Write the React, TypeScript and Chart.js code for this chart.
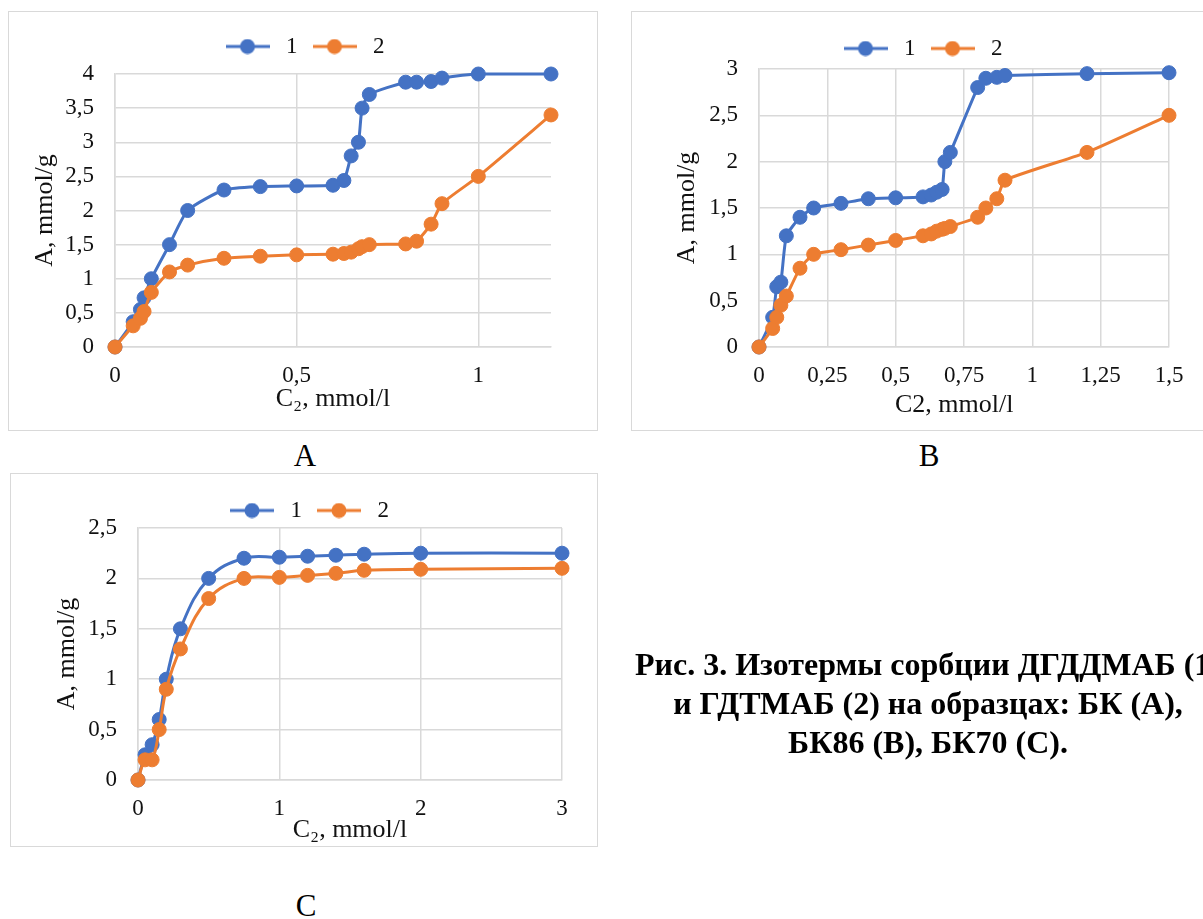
import React, { useEffect, useRef } from 'react';
import { Chart, registerables } from 'chart.js';

Chart.register(...registerables);

// ---------- data ----------
const seriesLabels = ['1', '2'];

// Panel A (БК)
const xA = [0, 0.05, 0.07, 0.08, 0.1, 0.15, 0.2, 0.3, 0.4, 0.5, 0.6, 0.63, 0.65, 0.67, 0.68, 0.7, 0.8, 0.83, 0.87, 0.9, 1.0, 1.2];
const s1A = [0, 0.37, 0.55, 0.72, 1.0, 1.5, 2.0, 2.3, 2.35, 2.36, 2.37, 2.44, 2.8, 3.0, 3.5, 3.7, 3.88, 3.88, 3.89, 3.94, 4.0, 4.0];
const s2A = [0, 0.31, 0.42, 0.52, 0.8, 1.1, 1.2, 1.3, 1.33, 1.35, 1.36, 1.37, 1.39, 1.44, 1.47, 1.5, 1.51, 1.55, 1.8, 2.1, 2.5, 3.4];

// Panel B (БК86)
const xB = [0, 0.05, 0.065, 0.08, 0.1, 0.15, 0.2, 0.3, 0.4, 0.5, 0.6, 0.63, 0.65, 0.67, 0.68, 0.7, 0.8, 0.83, 0.87, 0.9, 1.2, 1.5];
const s1B = [0, 0.32, 0.65, 0.7, 1.2, 1.4, 1.5, 1.55, 1.6, 1.61, 1.62, 1.64, 1.67, 1.7, 2.0, 2.1, 2.8, 2.9, 2.91, 2.93, 2.95, 2.96];
const s2B = [0, 0.2, 0.32, 0.45, 0.55, 0.85, 1.0, 1.05, 1.1, 1.15, 1.2, 1.22, 1.25, 1.27, 1.28, 1.3, 1.4, 1.5, 1.6, 1.8, 2.1, 2.5];

// Panel C (БК70)
const xC = [0, 0.05, 0.1, 0.15, 0.2, 0.3, 0.5, 0.75, 1.0, 1.2, 1.4, 1.6, 2.0, 3.0];
const s1C = [0, 0.25, 0.35, 0.6, 1.0, 1.5, 2.0, 2.2, 2.21, 2.22, 2.23, 2.24, 2.25, 2.25];
const s2C = [0, 0.2, 0.2, 0.5, 0.9, 1.3, 1.8, 2.0, 2.01, 2.03, 2.05, 2.08, 2.09, 2.1];

const yTitle = 'A, mmol/g';
const xTitleA = 'C\u2082, mmol/l';
const xTitleB = 'C2, mmol/l';
const xTitleC = 'C\u2082, mmol/l';

const captionLines = [
  'Рис. 3. Изотермы сорбции ДГДДМАБ (1)',
  'и ГДТМАБ (2) на образцах: БК (А),',
  'БК86 (В), БК70 (С).',
];

// ---------- styling ----------
const BLUE = '#4472C4';
const ORANGE = '#ED7D31';
const GRID = '#d9d9d9';
const TEXT = '#111111';
const SERIF = '"Liberation Serif", "Times New Roman", serif';

type Geo = {
  padTop: number; padLeft: number; padRight: number; padBottom: number;
  yWidth: number; xHeight: number; legendExtra: number; legendShift: number; xTitleShift: number;
};

function legendSymbol(color: string): HTMLCanvasElement {
  const c = document.createElement('canvas');
  c.width = 44; c.height = 16;
  const ctx = c.getContext('2d')!;
  ctx.strokeStyle = color; ctx.lineWidth = 3;
  ctx.beginPath(); ctx.moveTo(0, 8); ctx.lineTo(44, 8); ctx.stroke();
  ctx.fillStyle = color;
  ctx.beginPath(); ctx.arc(22, 8, 7.5, 0, Math.PI * 2); ctx.fill();
  return c;
}

const fmt = (v: any) => String(Math.round(Number(v) * 100) / 100).replace('.', ',');

function makeConfig(xs: number[], a: number[], b: number[], xMax: number, xStep: number, yMax: number,
  xTitle: string, tension: number, geo: Geo): any {
  const colors = [BLUE, ORANGE];
  const symbols = colors.map(legendSymbol);
  const mk = (vals: number[], i: number) => ({
    label: seriesLabels[i],
    data: xs.map((x, k) => ({ x, y: vals[k] })),
    borderColor: colors[i],
    backgroundColor: colors[i],
    pointBackgroundColor: colors[i],
    pointBorderColor: colors[i],
    borderWidth: 3,
    pointRadius: 7,
    pointHoverRadius: 7,
    pointBorderWidth: 1,
    tension,
    clip: false,
    order: i === 0 ? 1 : 0,
  });
  // fine placement of legend and x-axis title
  const placement = {
    id: 'placement',
    beforeUpdate(chart: any) {
      const lg = chart.legend;
      if (lg && !lg.__patched) {
        const orig = lg.fit;
        lg.fit = function () { orig.call(this); this.height += geo.legendExtra; };
        lg.__patched = true;
      }
    },
    afterLayout(chart: any) {
      const lg = chart.legend;
      if (lg) { lg.left += geo.legendShift; lg.right += geo.legendShift; }
    },
    beforeDraw(chart: any) {
      const xs2 = chart.scales.x;
      if (xs2 && geo.xTitleShift) {
        xs2.__l = xs2.left; xs2.__r = xs2.right;
      }
    },
  };
  const tickFont = { family: SERIF, size: 23 };
  const titleFont = { family: SERIF, size: 26 };
  return {
    type: 'line',
    data: { datasets: [mk(a, 0), mk(b, 1)] },
    plugins: [placement],
    options: {
      animation: false,
      responsive: false,
      maintainAspectRatio: false,
      layout: { padding: { top: geo.padTop, left: geo.padLeft, right: geo.padRight, bottom: geo.padBottom } },
      plugins: {
        tooltip: { enabled: false },
        legend: {
          display: true,
          position: 'top',
          labels: {
            usePointStyle: true,
            pointStyleWidth: 54,
            padding: 10,
            color: TEXT,
            font: { family: SERIF, size: 23 },
            generateLabels: (chart: any) => chart.data.datasets.map((ds: any, i: number) => ({
              text: ds.label,
              pointStyle: symbols[i],
              fillStyle: ds.borderColor,
              strokeStyle: ds.borderColor,
              lineWidth: 0,
              hidden: false,
              datasetIndex: i,
              fontColor: TEXT,
            })),
          },
        },
      },
      scales: {
        x: {
          type: 'linear',
          min: 0,
          max: xMax,
          afterFit: (s: any) => { s.height = geo.xHeight; },
          ticks: { stepSize: xStep, includeBounds: false, padding: 15, color: TEXT, font: tickFont, callback: fmt, maxRotation: 0, autoSkip: false },
          grid: { color: GRID, lineWidth: 1.5, drawTicks: false },
          border: { color: GRID, width: 1.5 },
          title: { display: true, text: xTitle + ' '.repeat(geo.xTitleShift), color: TEXT, font: titleFont, padding: 0 },
        },
        y: {
          type: 'linear',
          min: 0,
          max: yMax,
          afterFit: (s: any) => { s.width = geo.yWidth; },
          ticks: { stepSize: 0.5, padding: 21, color: TEXT, font: tickFont, callback: fmt },
          grid: { color: GRID, lineWidth: 1.5, drawTicks: false },
          border: { color: GRID, width: 1.5 },
          title: { display: true, text: yTitle, color: TEXT, font: titleFont, padding: 0 },
        },
      },
    },
  };
}

function Panel({ left, top, w, h, cfg }: { left: number; top: number; w: number; h: number; cfg: () => any }) {
  const ref = useRef<HTMLCanvasElement>(null);
  useEffect(() => {
    const chart = new Chart(ref.current!, cfg());
    return () => chart.destroy();
  }, []);
  return (
    <div style={{ position: 'absolute', left, top, width: w, height: h, border: `1px solid ${GRID}`, boxSizing: 'border-box', background: '#fff' }}>
      <canvas ref={ref} width={w - 2} height={h - 2} style={{ display: 'block', width: w - 2, height: h - 2 }} />
    </div>
  );
}

function Label({ text, cx, cy, size }: { text: string; cx: number; cy: number; size: number }) {
  return (
    <div style={{ position: 'absolute', left: cx - 100, top: cy - size / 2, width: 200, height: size, lineHeight: `${size}px`, fontSize: size, fontFamily: SERIF, textAlign: 'center', color: '#000' }}>
      {text}
    </div>
  );
}

export default function App() {
  return (
    <div style={{ position: 'absolute', left: 0, top: 0, width: 1203, height: 919, overflow: 'hidden', background: '#fff' }}>
      <Panel left={8} top={11} w={590} h={420}
        cfg={() => makeConfig(xA, s1A, s2A, 1.2, 0.5, 4, xTitleA, 0.2,
          { padTop: 13, legendExtra: 6, legendShift: 12, xTitleShift: 0, padLeft: 21, yWidth: 85, padRight: 46, padBottom: 15, xHeight: 68 })} />
      <Panel left={631} top={11} w={592} h={420}
        cfg={() => makeConfig(xB, s1B, s2B, 1.5, 0.25, 3, xTitleB, 0.15,
          { padTop: 15, legendExtra: -1, legendShift: 0, xTitleShift: 3, padLeft: 40, yWidth: 87, padRight: 53, padBottom: 9, xHeight: 74 })} />
      <Panel left={10} top={473} w={588} h={374}
        cfg={() => makeConfig(xC, s1C, s2C, 3, 1, 2.5, xTitleC, 0.4,
          { padTop: 15, legendExtra: -4, legendShift: 0, xTitleShift: 0, padLeft: 41, yWidth: 86, padRight: 35, padBottom: 0, xHeight: 66 })} />
      <Label text="A" cx={305} cy={455} size={31} />
      <Label text="B" cx={929} cy={455} size={31} />
      <Label text="C" cx={306} cy={905} size={31} />
      <div style={{ position: 'absolute', left: 328, top: 645, width: 1200, fontFamily: SERIF, fontWeight: 'bold', fontSize: 32, lineHeight: '39px', textAlign: 'center', whiteSpace: 'nowrap', color: '#000' }}>
        {captionLines.map((l, i) => <div key={i}>{l}</div>)}
      </div>
    </div>
  );
}
